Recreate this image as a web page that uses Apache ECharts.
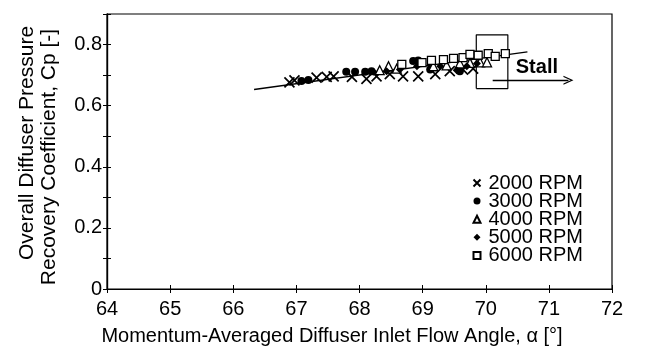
<!DOCTYPE html>
<html>
<head>
<meta charset="utf-8">
<script src="https://cdn.jsdelivr.net/npm/echarts@6/dist/echarts.min.js"></script>
<style>
  html, body { margin: 0; padding: 0; background: #fff; }
  #chart { width: 648px; height: 360px; }
</style>
</head>
<body>
<div id="chart"></div>
<script>
// 数据 (flow angle [deg], Cp)
var rpm2000 = [[66.89, 0.676], [66.97, 0.683], [67.32, 0.692], [67.48, 0.694], [67.59, 0.696], [67.88, 0.694], [68.11, 0.688], [68.27, 0.696], [68.48, 0.703], [68.69, 0.696], [68.93, 0.696], [69.20, 0.703], [69.43, 0.713], [69.64, 0.718], [69.80, 0.721]];
var rpm3000 = [[67.08, 0.681], [67.19, 0.684], [67.79, 0.711], [67.93, 0.711], [68.09, 0.711], [68.19, 0.713], [68.85, 0.746], [68.93, 0.748], [69.12, 0.718], [69.59, 0.713]];
var rpm4000 = [[68.32, 0.716], [68.46, 0.729], [68.59, 0.721], [69.17, 0.729], [69.38, 0.732], [69.59, 0.738], [69.75, 0.740], [69.91, 0.742], [70.02, 0.742]];
var rpm5000 = [[68.22, 0.711], [68.43, 0.713], [68.64, 0.718], [68.91, 0.729], [69.28, 0.729], [69.54, 0.716], [69.70, 0.729], [69.86, 0.738]];
var rpm6000 = [[68.67, 0.735], [68.99, 0.741], [69.14, 0.748], [69.33, 0.751], [69.49, 0.755], [69.64, 0.757], [69.75, 0.768], [69.88, 0.765], [70.04, 0.770], [70.15, 0.761], [70.31, 0.770]];
var fitLine = [[66.33, 0.653], [70.66, 0.776]];
var stallBox = [[69.85, 0.656], [70.35, 0.656], [70.35, 0.832], [69.85, 0.832], [69.85, 0.656]];
var stallArrow = [[70.11, 0.683], [71.31, 0.683]];
var stallLabelPos = [70.81, 0.726];
var seriesNames = ['2000 RPM', '3000 RPM', '4000 RPM', '5000 RPM', '6000 RPM'];

var FONT = 'Liberation Sans';
var chart = echarts.init(document.getElementById('chart'));

function axisBase (extra) {
  return Object.assign({
    type: 'value',
    axisLine: { show: true, lineStyle: { color: '#000', width: 1.2 } },
    splitLine: { show: false }
  }, extra);
}

// 刻度穿过坐标轴：外侧一套 + 内侧一套
var xMain = axisBase({
  min: 64, max: 72, interval: 1,
  axisTick: { show: true, length: 4, lineStyle: { color: '#000' } },
  axisLabel: { color: '#000', fontFamily: FONT, fontSize: 20, margin: 10 }
});
var xInner = axisBase({
  min: 64, max: 72, interval: 1, position: 'bottom',
  axisTick: { show: true, inside: true, length: 4, lineStyle: { color: '#000' } },
  axisLabel: { show: false }
});
var yMain = axisBase({
  min: 0, max: 0.9, interval: 0.1,
  axisTick: { show: true, length: 4, lineStyle: { color: '#000' } },
  axisLabel: {
    color: '#000', fontFamily: FONT, fontSize: 20, margin: 5, padding: [0, 0, 7, 0],
    formatter: function (v) {
      var k = Math.round(v * 10);
      if (k % 2 !== 0 || k > 8) return '';
      return k === 0 ? '0' : (k / 10).toFixed(1);
    }
  }
});
var yInner = axisBase({
  min: 0, max: 0.9, interval: 0.1, position: 'left',
  axisTick: { show: true, inside: true, length: 4, lineStyle: { color: '#000' } },
  axisLabel: { show: false }
});

function scatter (name, data, symbol, size, hollow) {
  return {
    name: name, type: 'scatter', data: data,
    symbol: symbol, symbolSize: size,
    itemStyle: {
      color: hollow ? '#fff' : '#000',
      borderColor: '#000',
      borderWidth: hollow ? 1.3 : 0,
      opacity: 1
    },
    z: 5
  };
}

var crossSym = 'path://M0,0L10,10M10,0L0,10';

var option = {
  backgroundColor: '#fff',
  animation: false,
  grid: { left: 107, right: 36, top: 14, bottom: 71, show: true, borderColor: '#000', borderWidth: 1.2 },
  xAxis: [xMain, xInner],
  yAxis: [yMain, yInner],
  legend: {
    orient: 'vertical', left: 471, top: 173, padding: 0,
    itemWidth: 7, itemHeight: 7, itemGap: -1.9,
    textStyle: { color: '#000', fontFamily: FONT, fontSize: 20, padding: [0, 0, 0, 3] },
    data: seriesNames
  },
  graphic: [
    { type: 'text', rotation: Math.PI / 2, x: 27, y: 143,
      style: { text: 'Overall Diffuser Pressure', font: '21px ' + FONT, fill: '#000', align: 'center', verticalAlign: 'middle' } },
    { type: 'text', rotation: Math.PI / 2, x: 49, y: 157,
      style: { text: 'Recovery Coefficient, Cp [-]', font: '21px ' + FONT, fill: '#000', align: 'center', verticalAlign: 'middle' } },
    { type: 'text', x: 332, y: 336,
      style: { text: 'Momentum-Averaged Diffuser Inlet Flow Angle, \u03b1 [\u00b0]', font: '20px ' + FONT, fill: '#000', align: 'center', verticalAlign: 'middle' } }
  ],
  series: [
    {
      name: 'fit', type: 'line', data: fitLine, symbol: 'none',
      lineStyle: { color: '#000', width: 1.4 }, z: 3, silent: true
    },
    {
      name: 'stall', type: 'line', data: stallBox, symbol: 'none',
      lineStyle: { color: '#000', width: 1.2 }, z: 4, silent: true,
      markLine: {
        silent: true, symbol: ['none', 'path://M0,10L5,0L10,10L8.6,10L5,2.8L1.4,10Z'], symbolSize: [9, 10],
        lineStyle: { color: '#000', width: 1.4, type: 'solid' },
        label: { show: false },
        data: [[{ coord: stallArrow[0] }, { coord: stallArrow[1] }]]
      },
      markPoint: {
        silent: true, symbol: 'circle', symbolSize: 1,
        itemStyle: { color: 'rgba(0,0,0,0)' },
        label: { show: true, position: 'inside', formatter: 'Stall', color: '#000', fontFamily: FONT, fontSize: 20, fontWeight: 'bold' },
        data: [{ coord: stallLabelPos }]
      }
    },
    scatter(seriesNames[0], rpm2000, crossSym, 10, false),
    scatter(seriesNames[1], rpm3000, 'circle', 8, false),
    scatter(seriesNames[2], rpm4000, 'triangle', 9, true),
    scatter(seriesNames[3], rpm5000, 'diamond', 8, false),
    scatter(seriesNames[4], rpm6000, 'rect', 8, true)
  ]
};
// x 形标记需要描边
option.series[2].itemStyle = { color: 'none', borderColor: '#000', borderWidth: 1.7, opacity: 1 };

chart.setOption(option);
</script>
</body>
</html>
